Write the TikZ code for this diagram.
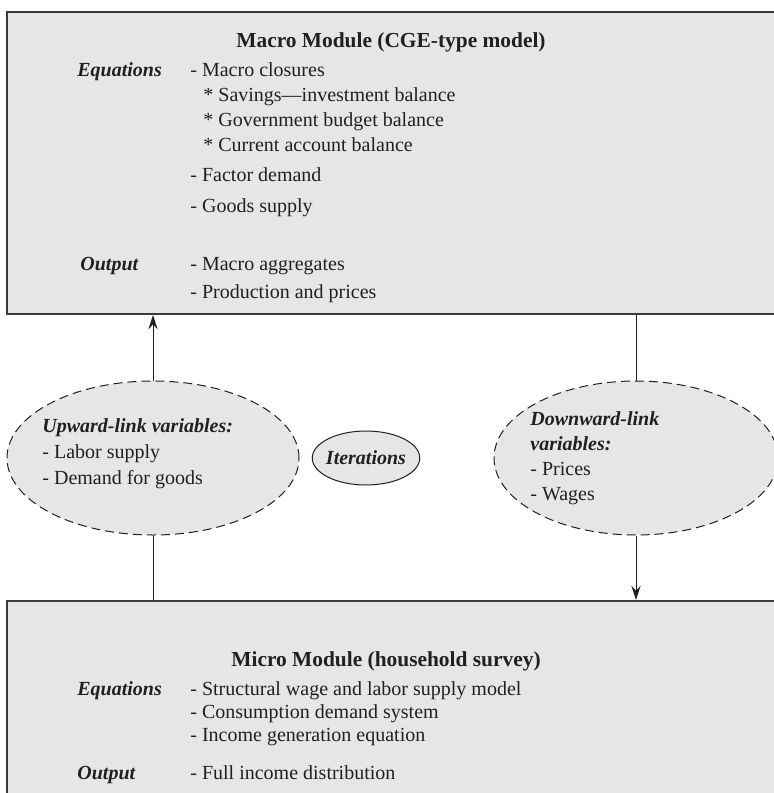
\documentclass[tikz,border=0pt]{standalone}
\usepackage{fontspec}
\setmainfont{Liberation Serif}
\usetikzlibrary{arrows.meta,shapes.geometric}
\definecolor{panelgray}{HTML}{E5E6E8}
\definecolor{framegray}{HTML}{3C3C3C}
\definecolor{inkblack}{HTML}{231F20}
\tikzset{
  modbox/.style={rectangle, draw=framegray, line width=1pt, fill=panelgray, inner sep=0pt},
  linkvar/.style={ellipse, draw=inkblack, line width=0.5pt, dash pattern=on 4.5pt off 2.5pt,
    fill=panelgray, inner sep=0pt},
  loopvar/.style={ellipse, draw=inkblack, line width=0.5pt, fill=panelgray,
    inner xsep=-1pt, inner ysep=0pt,
    font=\fontsize{10}{12}\selectfont\bfseries\itshape, text=inkblack},
  txt/.style={anchor=base west, inner sep=0pt, text=inkblack, font=\fontsize{10}{12}\selectfont},
  lbl/.style={txt, font=\fontsize{10}{12}\selectfont\bfseries\itshape},
  modtitle/.style={anchor=base, inner sep=0pt, text=inkblack, font=\fontsize{10.7}{12}\selectfont\bfseries},
  link/.style={draw=inkblack, line width=0.5pt},
}
\begin{document}
\begin{tikzpicture}[x=0.5pt, y=-0.5pt]
  \useasboundingbox (0,0) rectangle (774,793);
  \clip (0,0) rectangle (774,793);

  % modules
  \node[modbox, minimum width=387pt, minimum height=151pt] (macro) at (394,163) {};
  \node[modbox, minimum width=387pt, minimum height=100pt] (micro) at (394,701) {};

  % link variables
  \node[linkvar, minimum width=146pt, minimum height=77pt] (upvar) at (153,458) {};
  \node[linkvar, minimum width=142pt, minimum height=77pt] (downvar) at (636,458) {};
  \node[loopvar, minimum height=27pt] (iter) at (366,458) {Iterations};

  % connectors
  \draw[link, -{Stealth[length=7pt, width=4.5pt]}] (upvar.north) -- (upvar.north |- macro.south);
  \draw[link] (micro.north -| upvar.south) -- (upvar.south);
  \draw[link] (macro.south -| downvar.north) -- (downvar.north);
  \draw[link, -{Stealth[length=7pt, width=4.5pt]}] (downvar.south) -- (downvar.south |- micro.north);

  % macro module text
  \node[modtitle] (macrohead) at (391,47) {Macro Module (CGE-type model)};
  \node[lbl] (macroeq) at (77,76) {Equations};
  \node[txt] (mc1) at (190,76) {- Macro closures};
  \node[txt] (mc2) at (203,101) {* Savings---investment balance};
  \node[txt] (mc3) at (203,126) {* Government budget balance};
  \node[txt] (mc4) at (203,151) {* Current account balance};
  \node[txt] (mc5) at (190,181) {- Factor demand};
  \node[txt] (mc6) at (190,212) {- Goods supply};
  \node[lbl] (macroout) at (80,270) {Output};
  \node[txt] (mo1) at (190,270) {- Macro aggregates};
  \node[txt] (mo2) at (190,298) {- Production and prices};

  % upward link text
  \node[lbl] (up0) at (42,432) {Upward-link variables:};
  \node[txt] (up1) at (42,458) {- Labor supply};
  \node[txt] (up2) at (42,484) {- Demand for goods};

  % downward link text
  \node[lbl] (dn0) at (530,425) {Downward-link};
  \node[lbl] (dn1) at (530,450) {variables:};
  \node[txt] (dn2) at (530,475) {- Prices};
  \node[txt] (dn3) at (530,500) {- Wages};

  % micro module text
  \node[modtitle] (microhead) at (386,666) {Micro Module (household survey)};
  \node[lbl] (microeq) at (77,695) {Equations};
  \node[txt] (me1) at (190,695) {- Structural wage and labor supply model};
  \node[txt] (me2) at (190,718) {- Consumption demand system};
  \node[txt] (me3) at (190,741) {- Income generation equation};
  \node[lbl] (microout) at (77,779) {Output};
  \node[txt] (mo3) at (190,779) {- Full income distribution};
\end{tikzpicture}
\end{document}
